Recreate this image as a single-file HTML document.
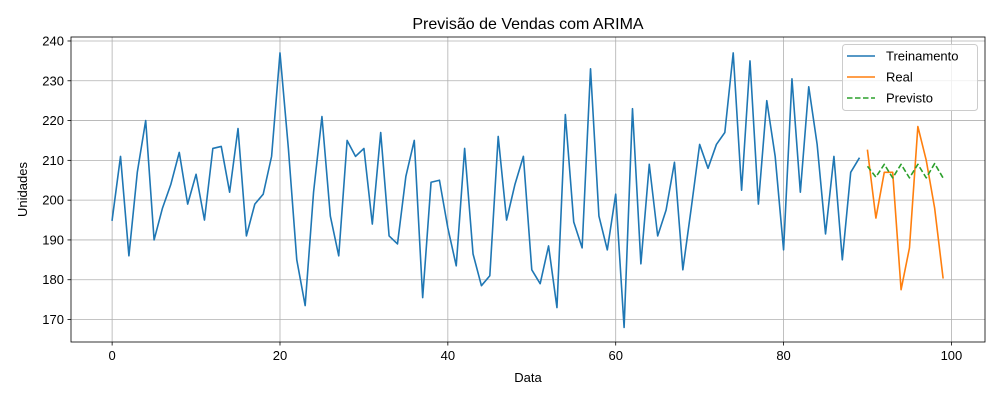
<!DOCTYPE html>
<html><head><meta charset="utf-8"><style>
body{margin:0;background:#fff;}
svg{display:block;font-family:"Liberation Sans","DejaVu Sans",sans-serif;}
</style></head><body>
<svg id="chart" width="1000" height="400" viewBox="0 0 1000 400"></svg>
<script>
const trainValues=[195,211,186,207,220,190,198,204,212,199,206.5,195,213,213.5,202,218,191,199,201.5,211,237,213,185,173.5,202,221,196,186,215,211,213,194,217,191,189,206,215,175.5,204.5,205,193,183.5,213,186.5,178.5,181,216,195,204,211,182.5,179,188.5,173,221.5,194.5,188,233,196,187.5,201.5,168,223,184,209,191,197.5,209.5,182.5,198,214,208,214,217,237,202.5,235,199,225,211,187.5,230.5,202,228.5,214,191.5,211,185,207,210.5];
const realValues=[212.5,195.5,207,207,177.5,188,218.5,210,198,180.5];
const forecastValues=[208.5,205.8,209,205.6,209,205.6,209,205.6,209.2,205.6];
const testStart=90;
const xTicks=[0,20,40,60,80,100];
const yTicks=[170,180,190,200,210,220,230,240];

const NS="http://www.w3.org/2000/svg";
const svg=document.getElementById('chart');
const L=71,R=985,T=37,B=342;
const xMin=-4.9,xMax=104.0,yMin=164.35,yMax=241.0;
const sx=v=>L+(v-xMin)/(xMax-xMin)*(R-L);
const sy=v=>B-(v-yMin)/(yMax-yMin)*(B-T);
function el(tag,attrs,parent){const e=document.createElementNS(NS,tag);for(const k in attrs)e.setAttribute(k,attrs[k]);(parent||svg).appendChild(e);return e;}

const title=el('text',{x:(L+R)/2,y:29,'text-anchor':'middle','font-size':16,fill:'#000'});
title.textContent='Previsão de Vendas com ARIMA';



const grid=el('g',{});


xTicks.forEach(t=>{
  const x=sx(t);
  const g=el('line',{x1:x,x2:x,y1:T,y2:B,stroke:'#b0b0b0','stroke-width':0.8},grid);
  
  
  const tk=el('line',{x1:x,x2:x,y1:B,y2:B+3.5,stroke:'#000','stroke-width':0.8});
  
  
  const lb=el('text',{x:x,y:B+18,'text-anchor':'middle','font-size':13,fill:'#000'});
  lb.textContent=t;
  
  
});
yTicks.forEach(t=>{
  const y=sy(t);
  const g=el('line',{x1:L,x2:R,y1:y,y2:y,stroke:'#b0b0b0','stroke-width':0.8},grid);
  
  
  const tk=el('line',{x1:L-3.5,x2:L,y1:y,y2:y,stroke:'#000','stroke-width':0.8});
  
  
  const lb=el('text',{x:L-7,y:y+4.5,'text-anchor':'end','font-size':13,fill:'#000'});
  lb.textContent=t;
  
  
});

function line(vals,start,color,dash,name){
  const pts=vals.map((v,i)=>sx(start+i).toFixed(2)+','+sy(v).toFixed(2)).join(' ');
  const p=el('polyline',{points:pts,fill:'none',stroke:color,'stroke-width':1.6,'stroke-linejoin':'round','stroke-linecap':dash?'butt':'square'});
  if(dash)p.setAttribute('stroke-dasharray',dash);
  
  
}
line(trainValues,0,'#1f77b4',null,'training-line');
line(realValues,testStart,'#ff7f0e',null,'real-line');
line(forecastValues,testStart,'#2ca02c','5.5,2.5','forecast-line');

const frame=el('rect',{x:L,y:T,width:R-L,height:B-T,fill:'none',stroke:'#000','stroke-width':0.8});



const xl=el('text',{x:(L+R)/2,y:382,'text-anchor':'middle','font-size':13,fill:'#000'});
xl.textContent='Data';


const yl=el('text',{x:0,y:0,'text-anchor':'middle','font-size':13,fill:'#000',transform:'translate(27,'+((T+B)/2)+') rotate(-90)'});
yl.textContent='Unidades';



const lg=el('g',{});


el('rect',{x:842.5,y:44.5,width:135,height:66,rx:3,fill:'#fff','fill-opacity':0.8,stroke:'#ccc','stroke-width':1},lg);
const items=[['Treinamento','#1f77b4',null],['Real','#ff7f0e',null],['Previsto','#2ca02c','5.5,2.5']];
items.forEach((it,i)=>{
  const y=56+i*21;
  const ln=el('line',{x1:847,x2:875,y1:y,y2:y,stroke:it[1],'stroke-width':1.6},lg);
  if(it[2])ln.setAttribute('stroke-dasharray',it[2]);
  
  
  const tx=el('text',{x:886,y:y+4.5,'font-size':13,fill:'#000'},lg);
  tx.textContent=it[0];
  
  
});
</script>
</body></html>
